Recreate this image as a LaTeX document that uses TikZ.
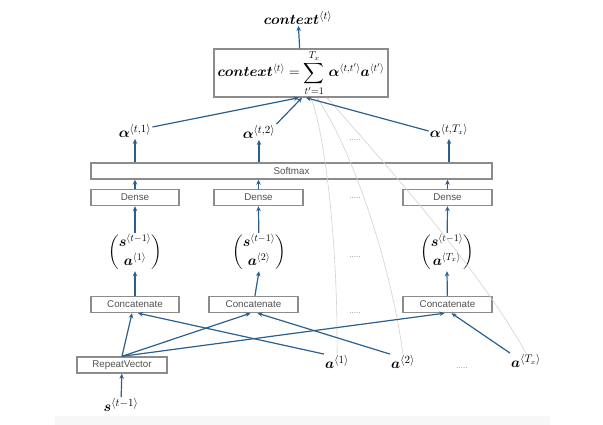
\documentclass[tikz,border=0pt]{standalone}
\usepackage{amsmath}
\usepackage{bm}
\usepackage{fontspec}
\setsansfont{Liberation Sans}
\usetikzlibrary{arrows.meta}

\definecolor{arrowblue}{HTML}{2B5F8E}
\definecolor{boxgray}{HTML}{8C8C8C}
\definecolor{labelgray}{HTML}{505050}
\definecolor{curvegray}{HTML}{D2D2D2}

\tikzset{
  layer/.style={draw=boxgray, line width=1.4pt, minimum height=16pt, inner sep=0pt,
    font=\sffamily\fontsize{9.8}{11}\selectfont, text=labelgray},
  flow/.style={draw=arrowblue, line width=1.2pt, -{Stealth[length=5pt,width=4.5pt]}},
  attn/.style={draw=curvegray, line width=0.6pt, -{Stealth[length=3pt,width=2.5pt]}},
  var/.style={font=\fontsize{15}{17}\selectfont, inner sep=1pt},
  more/.style={font=\sffamily\fontsize{8}{9}\selectfont, text=black!45}
}

\begin{document}
\begin{tikzpicture}[x=1pt,y=-1pt]
\useasboundingbox (0,0) rectangle (603,425);
\fill[black!3] (55,416) rectangle (550,425);

\node[var] (ctx) at (298,18) {$\bm{context}^{\langle t\rangle}$};
\node[draw=boxgray, line width=1.4pt, minimum width=174pt, minimum height=48pt, inner sep=0pt,
  font=\fontsize{14}{16}\selectfont] (sum) at (301,73)
  {$\displaystyle \bm{context}^{\langle t\rangle}=\sum_{t'=1}^{T_x}\mkern2mu\bm{\alpha}^{\langle t,t'\rangle}\bm{a}^{\langle t'\rangle}$};

\node[var] (alpha1) at (135,131) {$\bm{\alpha}^{\langle t,1\rangle}$};
\node[var] (alpha2) at (259,132) {$\bm{\alpha}^{\langle t,2\rangle}$};
\node[var] (alphaT) at (449,131) {$\bm{\alpha}^{\langle t,T_x\rangle}$};
\node[more] (dots1) at (355,140) {.....};

\node[layer, minimum width=401pt] (softmax) at (291.5,171) {Softmax};

\node[layer, minimum width=88pt] (dense1) at (135,197.5) {Dense};
\node[layer, minimum width=89pt] (dense2) at (258.5,197.5) {Dense};
\node[layer, minimum width=89pt] (dense3) at (447.5,197.5) {Dense};
\node[more] (dots2) at (355,198) {.....};

\node[var, font=\fontsize{14}{16}\selectfont] (vec1) at (135,252) {$\begin{pmatrix}\bm{s}^{\langle t-1\rangle}\\[1pt] \bm{a}^{\langle 1\rangle}\end{pmatrix}$};
\node[var, font=\fontsize{14}{16}\selectfont] (vec2) at (259,252) {$\begin{pmatrix}\bm{s}^{\langle t-1\rangle}\\[1pt] \bm{a}^{\langle 2\rangle}\end{pmatrix}$};
\node[var, font=\fontsize{14}{16}\selectfont] (vec3) at (447,252) {$\begin{pmatrix}\bm{s}^{\langle t-1\rangle}\\[1pt] \bm{a}^{\langle T_x\rangle}\end{pmatrix}$};
\node[more] (dots3) at (355,257) {.....};

\node[layer, minimum width=88pt] (concat1) at (135,304.5) {Concatenate};
\node[layer, minimum width=89pt] (concat2) at (253.5,304.5) {Concatenate};
\node[layer, minimum width=89pt] (concat3) at (447.5,304.5) {Concatenate};
\node[more] (dots4) at (355,313) {.....};

\node[layer, minimum width=90pt] (repeat) at (122,365) {RepeatVector};
\node[var] (sprev) at (121,405) {$\bm{s}^{\langle t-1\rangle}$};

\node[var] (a1) at (337,362) {$\bm{a}^{\langle 1\rangle}$};
\node[var] (a2) at (403,362) {$\bm{a}^{\langle 2\rangle}$};
\node[more] (dots5) at (462,368) {.....};
\node[var] (aT) at (526,361) {$\bm{a}^{\langle T_x\rangle}$};

\draw[attn] (a1.north) .. controls (338,250) and (326,140) .. ([xshift=10pt]sum.south);
\draw[attn] (a2.north) .. controls (390,260) and (352,150) .. ([xshift=16pt]sum.south);
\draw[attn] (aT.north) .. controls (480,270) and (382,160) .. ([xshift=26pt]sum.south);

\draw[flow] (sum) -- (ctx);
\draw[flow] ([yshift=4pt]alpha1.east) -- ([xshift=-2pt]sum.south);
\draw[flow] (alpha2.north east) -- ([xshift=1pt]sum.south);
\draw[flow] (alphaT.west) -- ([xshift=5pt]sum.south);

\foreach \k in {1,2,T}
  \draw[flow] (alpha\k |- softmax.north) -- (alpha\k.south);
\foreach \k in {1,2,3}{
  \draw[flow] (dense\k) -- (dense\k |- softmax.south);
  \draw[flow] (vec\k) -- (dense\k.south);
  \draw[flow] (concat\k) -- (vec\k.south);
  \draw[flow] (repeat.north) -- ([xshift=-3pt]concat\k.south);
}
\draw[flow] (a1.north west) -- ([xshift=3pt]concat1.south);
\draw[flow] (a2.north west) -- ([xshift=4pt]concat2.south);
\draw[flow] (aT.north west) -- ([xshift=4pt]concat3.south);
\draw[flow] (sprev) -- (repeat);
\end{tikzpicture}
\end{document}
